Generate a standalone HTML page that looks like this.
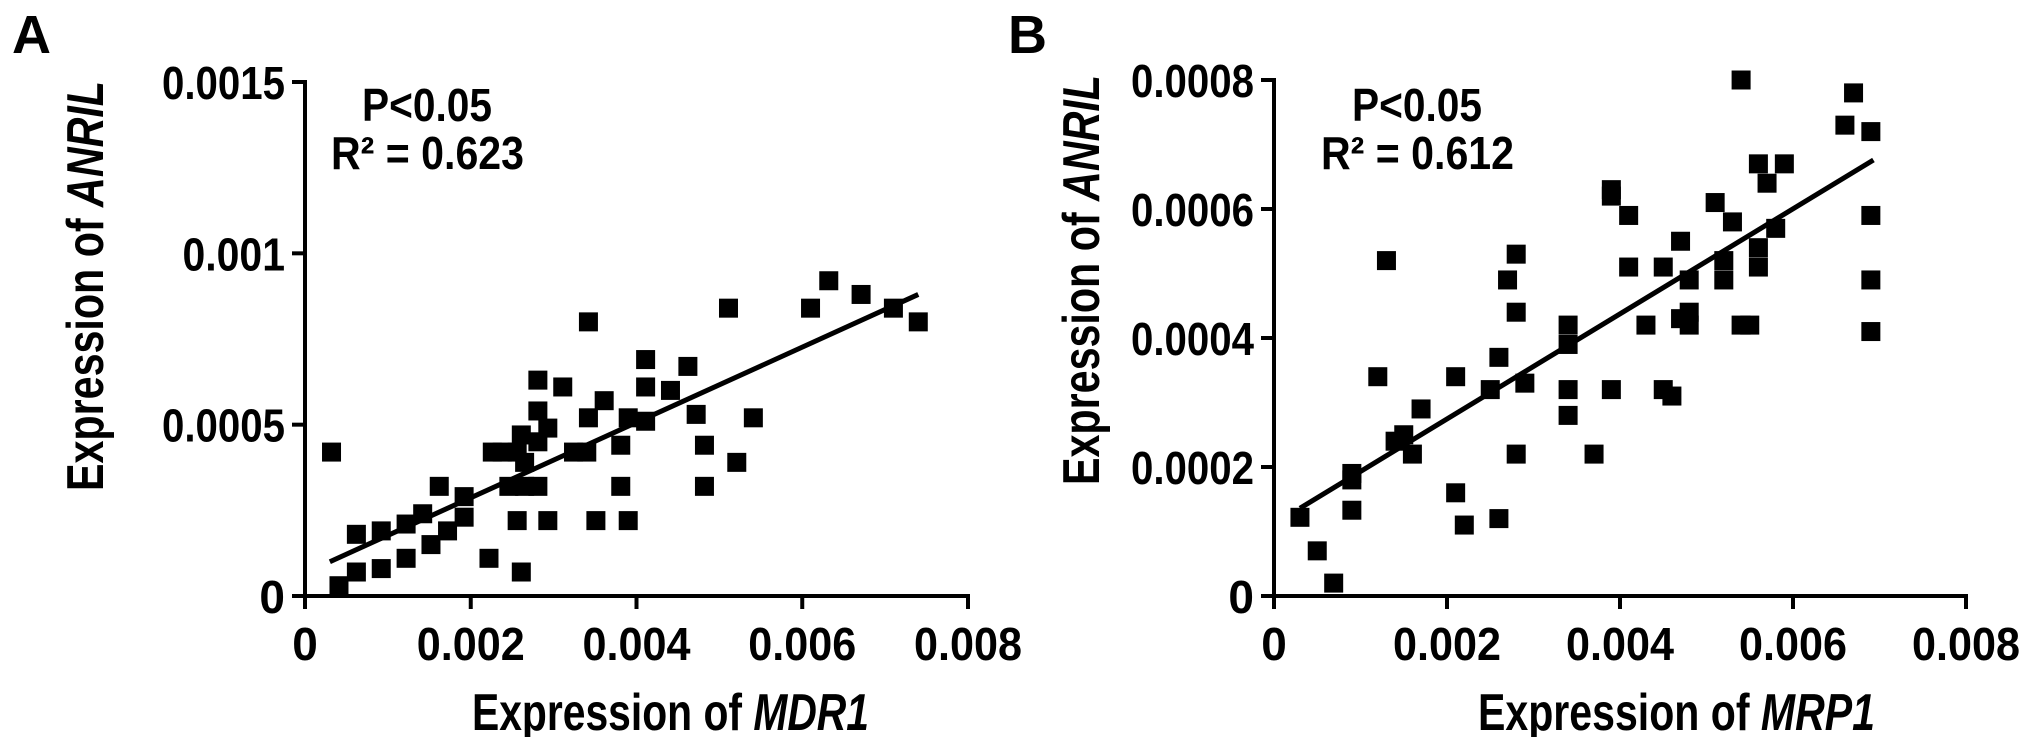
<!DOCTYPE html>
<html><head><meta charset="utf-8"><style>
html,body{margin:0;padding:0;background:#fff;}
svg{display:block;font-family:"Liberation Sans",Arial,sans-serif;font-weight:bold;}
</style></head><body>
<svg id="fig" width="2031" height="737" viewBox="0 0 2031 737"></svg>
<script>
// Panel A data (MDR1 vs ANRIL)
const aX = [0.00032,0.00041,0.00062,0.00062,0.00092,0.00092,0.00122,0.00122,0.00142,0.00152,0.00162,0.00172,0.00192,0.00192,0.00222,0.00226,0.00238,0.00246,0.00256,0.00256,0.00261,0.00261,0.00265,0.00265,0.00281,0.00281,0.00281,0.00281,0.00293,0.00293,0.00311,0.00324,0.0034,0.00342,0.00342,0.00351,0.00361,0.00381,0.00381,0.0039,0.0039,0.00411,0.00411,0.00411,0.00441,0.00462,0.00472,0.00482,0.00482,0.00511,0.00521,0.00541,0.0061,0.00632,0.00671,0.0071,0.0074];
const aY = [0.00042,0.00003,0.00018,0.00007,0.00019,0.00008,0.00021,0.00011,0.00024,0.00015,0.00032,0.00019,0.00029,0.00023,0.00011,0.00042,0.00042,0.00032,0.00042,0.00022,0.00007,0.00047,0.00039,0.00032,0.00032,0.00045,0.00054,0.00063,0.00049,0.00022,0.00061,0.00042,0.00042,0.00052,0.0008,0.00022,0.00057,0.00032,0.00044,0.00022,0.00052,0.00051,0.00061,0.00069,0.0006,0.00067,0.00053,0.00044,0.00032,0.00084,0.00039,0.00052,0.00084,0.00092,0.00088,0.00084,0.0008];
const aFitX = [0.0003,0.0074];
const aFitY = [0.0001,0.00088];
const aXTicks = [0,0.002,0.004,0.006,0.008];
const aXTickLabels = ["0","0.002","0.004","0.006","0.008"];
const aYTicks = [0,0.0005,0.001,0.0015];
const aYTickLabels = ["0","0.0005","0.001","0.0015"];
// Panel B data (MRP1 vs ANRIL)
const bX = [0.0003,0.0005,0.00069,0.0009,0.0009,0.0009,0.0012,0.0013,0.0014,0.0015,0.0016,0.0017,0.0021,0.0021,0.0022,0.0025,0.0026,0.0026,0.0027,0.0028,0.0028,0.0028,0.0029,0.0034,0.0034,0.0034,0.0034,0.0037,0.0039,0.0039,0.0039,0.0041,0.0041,0.0043,0.0045,0.0045,0.0046,0.0047,0.0047,0.0048,0.0048,0.0048,0.0051,0.0052,0.0052,0.0053,0.0054,0.0054,0.0055,0.0056,0.0056,0.0056,0.0057,0.0058,0.0059,0.0066,0.0067,0.0069,0.0069,0.0069,0.0069];
const bY = [0.000122,0.00007,0.00002,0.000133,0.00018,0.00019,0.00034,0.00052,0.00024,0.00025,0.00022,0.00029,0.00034,0.00016,0.00011,0.00032,0.00037,0.00012,0.00049,0.00053,0.00044,0.00022,0.00033,0.00042,0.00039,0.00032,0.00028,0.00022,0.00063,0.00062,0.00032,0.00059,0.00051,0.00042,0.00051,0.00032,0.00031,0.00055,0.00043,0.00049,0.00044,0.00042,0.00061,0.00052,0.00049,0.00058,0.0008,0.00042,0.00042,0.00067,0.00054,0.00051,0.00064,0.00057,0.00067,0.00073,0.00078,0.00072,0.00059,0.00049,0.00041];
const bFitX = [0.0003,0.00693];
const bFitY = [0.000136,0.000676];
const bXTicks = [0,0.002,0.004,0.006,0.008];
const bXTickLabels = ["0","0.002","0.004","0.006","0.008"];
const bYTicks = [0,0.0002,0.0004,0.0006,0.0008];
const bYTickLabels = ["0","0.0002","0.0004","0.0006","0.0008"];

const NS = "http://www.w3.org/2000/svg";
const svg = document.getElementById("fig");
function mk(tag, attrs, parent){
  const e = document.createElementNS(NS, tag);
  for (const k in attrs) e.setAttribute(k, attrs[k]);
  (parent||svg).appendChild(e);
  return e;
}
function txt(parent, s, x, y, size, anchor, len, italicPart){
  const t = mk("text", {x:x, y:y, "font-size":size, "text-anchor":anchor||"start"}, parent);
  if (len){ t.setAttribute("textLength", len); t.setAttribute("lengthAdjust","spacingAndGlyphs"); }
  t.textContent = s;
  if (italicPart){
    const ts = document.createElementNS(NS,"tspan");
    ts.setAttribute("font-style","italic");
    ts.textContent = italicPart;
    t.appendChild(ts);
  }
  return t;
}

function panel(cfg){
  const g = mk("g", {});
  
  
  const sx = v => cfg.x0 + v / cfg.xMax * (cfg.x1 - cfg.x0);
  const sy = v => cfg.y0 - v / cfg.yMax * (cfg.y0 - cfg.y1);
  const xa = mk("line", {x1:cfg.x0-12, y1:cfg.y0, x2:cfg.x1+2, y2:cfg.y0, stroke:"#000","stroke-width":4}, g);
  
  
  const ya = mk("line", {x1:cfg.x0, y1:cfg.y0+12, x2:cfg.x0, y2:cfg.y1-2, stroke:"#000","stroke-width":4}, g);
  
  
  cfg.xTicks.forEach((v,i)=>{
    const X = sx(v);
    const tk = mk("line",{x1:X,y1:cfg.y0,x2:X,y2:cfg.y0+13,stroke:"#000","stroke-width":4},g);
    
    
    const lb = txt(g, cfg.xTickLabels[i], X, cfg.y0+64, 46, "middle", cfg.xTickLabels[i].length>1?108:null);
    
    
  });
  cfg.yTicks.forEach((v,i)=>{
    const Y = sy(v);
    const tk = mk("line",{x1:cfg.x0-13,y1:Y,x2:cfg.x0,y2:Y,stroke:"#000","stroke-width":4},g);
    
    
    const s = cfg.yTickLabels[i];
    const lb = txt(g, s, cfg.x0-20, Y+17, 46, "end", s.length>1? s.length*20.5 : null);
    
    
  });
  cfg.xs.forEach((v,i)=>{
    const r = mk("rect",{x:sx(v)-9.5,y:sy(cfg.ys[i])-9.5,width:19,height:19,fill:"#000"},g);
    
    
  });
  const fl = mk("line",{x1:sx(cfg.fitX[0]),y1:sy(cfg.fitY[0]),x2:sx(cfg.fitX[1]),y2:sy(cfg.fitY[1]),stroke:"#000","stroke-width":5},g);
  
  
  const p = txt(g, "P<0.05", cfg.pX, 121, 46, "start", 130);
  
  
  const r2 = txt(g, "R² = " + cfg.r2, cfg.rX, 169, 46, "start", 193);
  
  
  const xt = txt(g, "Expression of ", cfg.xtX, 730, 52, "start", 397, cfg.xGene);
  
  
  const yt = mk("text",{x:0,y:0,"font-size":52,"text-anchor":"middle",textLength:410,lengthAdjust:"spacingAndGlyphs",transform:`translate(${cfg.ytX},${cfg.ytY}) rotate(-90)`},g);
  yt.textContent = "Expression of ";
  const it = document.createElementNS(NS,"tspan"); it.setAttribute("font-style","italic"); it.textContent="ANRIL"; yt.appendChild(it);
  
  
  const pl = txt(g, cfg.letter, cfg.lX, 53, 54, "start");
  
  
}

panel({name:"panel-a", x0:305, x1:968, y0:596, y1:82, xMax:0.008, yMax:0.0015,
  xs:aX, ys:aY, fitX:aFitX, fitY:aFitY, xTicks:aXTicks, xTickLabels:aXTickLabels,
  yTicks:aYTicks, yTickLabels:aYTickLabels, r2:"0.623", pX:362, rX:331,
  xtX:472, xGene:"MDR1", ytX:103, ytY:286, letter:"A", lX:12});
panel({name:"panel-b", x0:1274, x1:1966, y0:596, y1:80, xMax:0.008, yMax:0.0008,
  xs:bX, ys:bY, fitX:bFitX, fitY:bFitY, xTicks:bXTicks, xTickLabels:bXTickLabels,
  yTicks:bYTicks, yTickLabels:bYTickLabels, r2:"0.612", pX:1352, rX:1321,
  xtX:1478, xGene:"MRP1", ytX:1099, ytY:280, letter:"B", lX:1008});
</script>
</body></html>
